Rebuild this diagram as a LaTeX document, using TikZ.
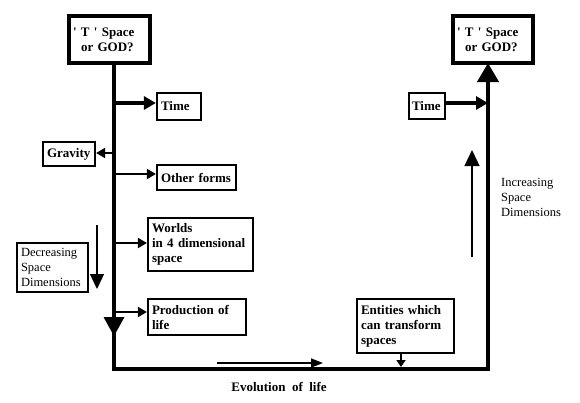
\documentclass[tikz,border=0pt]{standalone}
\usepackage{fontspec}
\setmainfont{Liberation Serif}
\newfontfamily\rawserif{Liberation Serif}
\usetikzlibrary{arrows.meta}
\begin{document}
\begin{tikzpicture}[x=1pt,y=-1pt,
  bx/.style={draw, line width=2.2pt, inner xsep=3pt, inner ysep=0pt, align=left,
             font=\fontsize{13}{15}\selectfont\bfseries},
  topbox/.style={bx, line width=4pt, font=\rawserif\fontsize{13}{15}\selectfont\bfseries},
  mainline/.style={line width=4pt, line join=miter},
  bigarrow/.style={line width=4pt, -{Triangle[length=12pt,width=13pt]}},
  conn/.style={line width=2pt, -{Triangle[length=9pt,width=10pt]}},
  smallconn/.style={line width=2pt, -{Triangle[length=7pt,width=9pt]}},
  thinarrow/.style={line width=1.3pt, -{Triangle[length=15pt,width=14pt]}},
  plaintext/.style={font=\fontsize{12.5}{15}\selectfont, align=left, inner sep=0pt},
  plainbox/.style={draw, line width=1.8pt, inner xsep=3pt, inner ysep=0pt, align=left,
             font=\fontsize{12.5}{15}\selectfont}]
\useasboundingbox (0,0) rectangle (580,402);

% boxes
\node[topbox, minimum width=81pt, minimum height=47pt, text width=73pt] (topL) at (109.5,39.5)
  {' T ' Space\\\hspace*{8pt}or GOD?};
\node[topbox, minimum width=80pt, minimum height=47pt, text width=72pt] (topR) at (493,39.5)
  {' T ' Space\\\hspace*{8pt}or GOD?};
\node[bx, minimum width=44pt, minimum height=27pt, text width=36pt] (timeL) at (179,106.5) {Time};
\node[bx, minimum width=36pt, minimum height=26pt, text width=30pt] (timeR) at (427,106) {Time};
\node[bx, minimum width=52pt, minimum height=24pt, text width=44pt] (grav) at (69,154) {Gravity};
\node[bx, minimum width=79pt, minimum height=25pt, text width=71pt] (other) at (196.5,177.5) {Other forms};
\node[bx, minimum width=105pt, minimum height=53pt, text width=97pt] (worlds) at (200.5,244.5)
  {Worlds\\in 4 dimensional\\space};
\node[bx, minimum width=98pt, minimum height=36pt, text width=90pt] (prod) at (197,317)
  {Production of\\life};
\node[bx, minimum width=97pt, minimum height=54pt, text width=89pt] (ent) at (405.5,326)
  {Entities which\\can transform\\spaces};
\node[plainbox, minimum width=71pt, minimum height=49pt, text width=63pt] (decr) at (52.5,267.5)
  {Decreasing\\Space\\Dimensions};
\node[plaintext, anchor=west] (incr) at (501,197) {Increasing\\Space\\Dimensions};
\node[font=\fontsize{13}{15}\selectfont\bfseries, inner sep=0pt] (evol) at (279,387)
  {Evolution\ \ of\ \ life};

% main frame
\coordinate (L0) at (114,61);
\coordinate (BL) at (114,369);
\coordinate (BR) at (488,369);
\coordinate (R0) at (488,63);
\draw[mainline, -{Triangle[length=19pt,width=21pt]}] (L0) -- (BL) -- (BR) -- (R0);
\fill (103.5,317) -- (124.5,317) -- (114,336) -- cycle;

% branches
\coordinate (tA) at (114,103);
\draw[bigarrow] (tA) -- (tA -| timeL.west);
\coordinate (tB) at (445,103);
\draw[bigarrow] (tB -| timeR.east) -- (tB -| R0);
\coordinate (gA) at (114,153);
\draw[conn] (gA) -- (gA -| grav.east);
\coordinate (oA) at (114,174);
\draw[conn] (oA) -- (oA -| other.west);
\coordinate (wA) at (114,243);
\draw[conn] (wA) -- (wA -| worlds.west);
\coordinate (pA) at (114,312);
\draw[conn] (pA) -- (pA -| prod.west);
\coordinate (eA) at (401,353);
\coordinate (eB) at (401,367);
\draw[smallconn] (eA) -- (eB);

% thin arrows
\coordinate (ev0) at (217,363);
\coordinate (ev1) at (323,363);
\draw[line width=1.6pt, -{Triangle[length=12pt,width=9pt]}] (ev0) -- (ev1);
\coordinate (d0) at (97,225);
\coordinate (d1) at (97,289);
\draw[thinarrow] (d0) -- (d1);
\coordinate (i0) at (472,257);
\coordinate (i1) at (472,150);
\draw[thinarrow, -{Triangle[length=16pt,width=15pt]}] (i0) -- (i1);
\end{tikzpicture}
\end{document}
